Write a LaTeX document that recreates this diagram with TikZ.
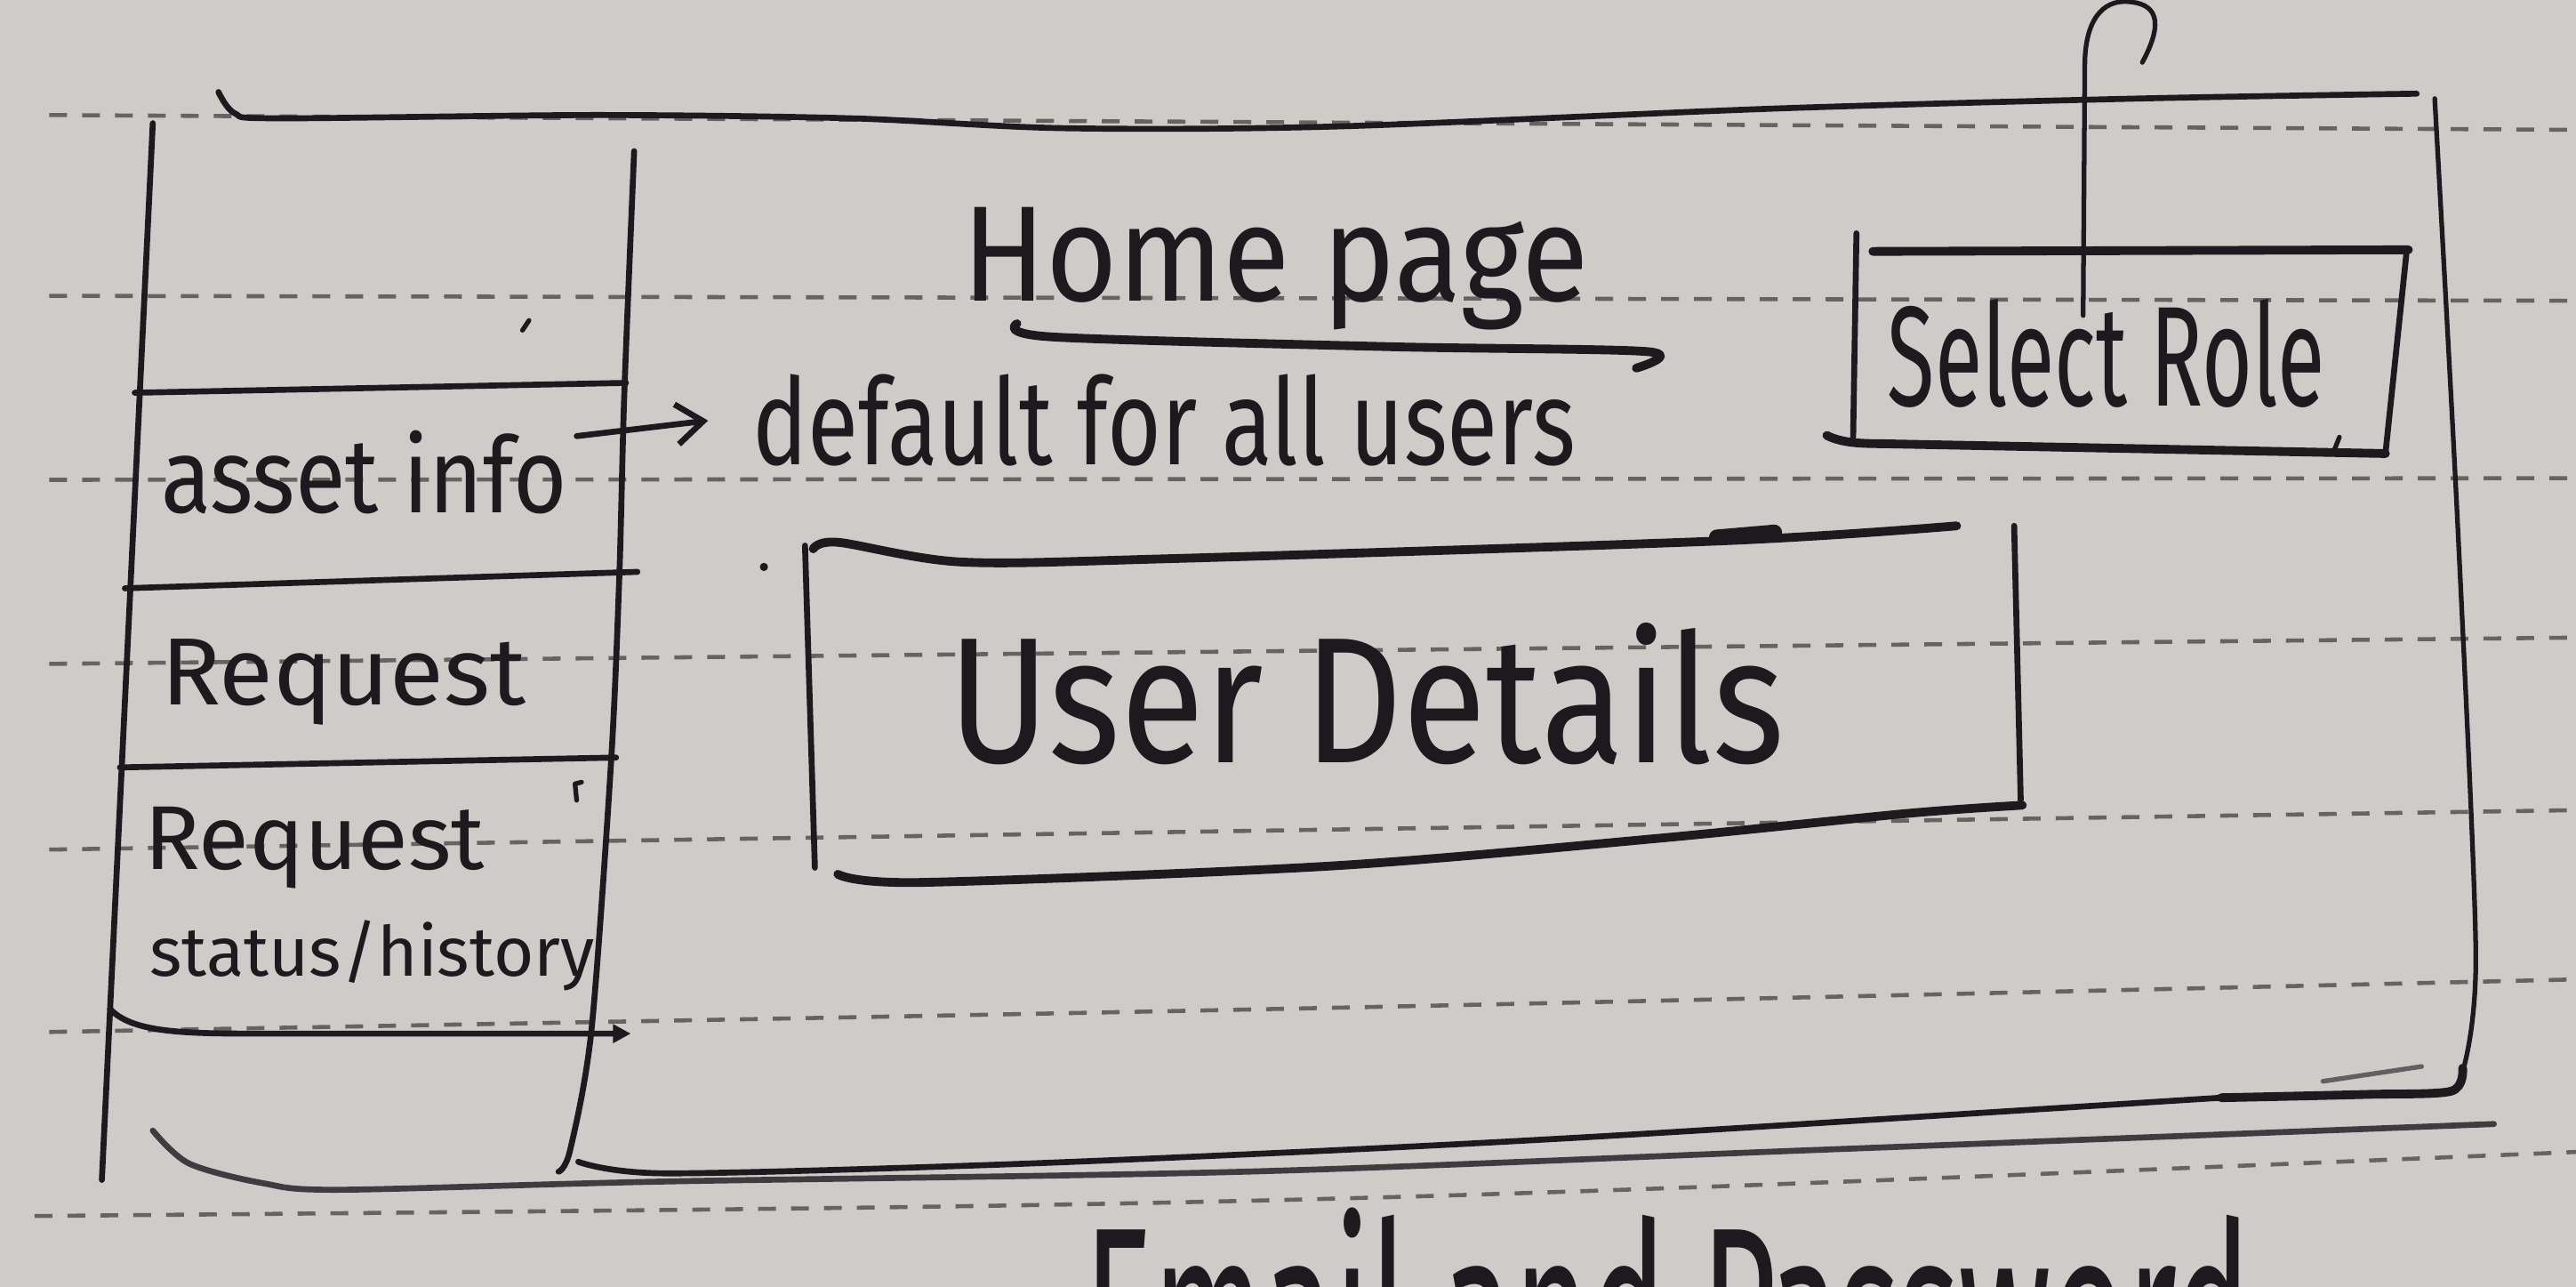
\documentclass[tikz,border=0pt]{standalone}
\usepackage{fontspec}
\setmainfont{Fira Sans}
\usepackage{graphicx}
\usetikzlibrary{arrows.meta,calc}
\definecolor{paper}{RGB}{206,203,200}
\definecolor{ink}{RGB}{28,26,30}
\definecolor{rule}{RGB}{104,99,96}
\newlength\rpx
\setlength\rpx{0.018476cm}
% handwritten label: width, height above baseline, text
\newcommand\hand[3]{\resizebox{#1\rpx}{#2\rpx}{#3}}
\tikzset{
  pen/.style={draw=ink, line width=1.9pt, line cap=round, line join=round},
  boldpen/.style={pen, line width=2.8pt},
  finepen/.style={pen, line width=1.5pt},
  ruled/.style={draw=rule, line width=1.3pt, dash pattern=on 0.2cm off 0.17cm},
  lbl/.style={anchor=base west, inner sep=0pt, outer sep=0pt, text=ink,
              font=\fontsize{10}{12}\selectfont},
}
\begin{document}
\begin{tikzpicture}[x=0.018476cm, y=-0.018476cm]
\fill[paper] (0,0) rectangle (1568,783);
\useasboundingbox (0,0) rectangle (1568,783);
\clip (0,0) rectangle (1568,783);

% ruled notebook lines
\draw[ruled] (30,70) -- (1568,79);
\draw[ruled] (30,180) -- (1568,183);
\draw[ruled] (30,292) -- (1568,291);
\draw[ruled] (30,404) -- (1568,388);
\draw[ruled] (30,517) -- (1568,493);
\draw[ruled] (30,628) .. controls (800,614) .. (1568,596);
\draw[ruled] (21,740) .. controls (794,733) .. (1568,701);

% outer page frame
\draw[pen] plot[smooth] coordinates {(133,56) (143,69) (170,72) (363,70) (518,72) (647,78) (812,77) (1082,66) (1300,60) (1471,57)};
\draw[finepen] plot[smooth] coordinates {(1482,60) (1496,320) (1507,580) (1499,652)};
\draw[boldpen] plot[smooth] coordinates {(1499,650) (1492,664) (1440,666) (1352,668)};
\draw[pen] plot[smooth] coordinates {(1352,668) (1000,690) (812,700) (600,709) (404,714) (352,707)};
\draw[finepen, draw=ink!70] (1414,658) -- (1474,649);
\draw[pen, draw=ink!85] plot[smooth] coordinates {(93,688) (115,708) (160,720) (207,724) (404,719) (758,713) (1100,700) (1518,684)};

% side menu
\draw[pen] (93,75) -- (62,718);
\draw[pen] plot[smooth] coordinates {(386,92) (380,240) (377,350) (372,463) (360,627) (347,700) (340,713)};
\draw[pen] (82,239) -- (381,233);
\draw[pen] (76,358) -- (388,348);
\draw[pen] (73,467) -- (375,461);
\draw[pen, -{Triangle[length=0.2cm,width=0.2cm]}] (67,614) .. controls (80,628) and (110,629) .. (155,629) -- (384,629);
\draw[finepen] (318,201) -- (322,195);
\draw[finepen] (354,476) -- (350,477) -- (351,487);

\node[lbl] (assetinfo) at (98,312) {\hand{247}{50}{asset info}};
\node[lbl] (request)   at (98,429) {\hand{222}{40}{Request}};
\node[lbl] (reqstat)   at (88,529) {\hand{207}{38}{Request}};
\node[lbl] (history)   at (91,594) {\hand{271}{34}{status/history}};

% page title and note
\node[lbl] (home) at (586,183) {\hand{381}{57}{Home page}};
\draw[boldpen] plot[smooth] coordinates {(619,197) (640,205) (847,211) (1003,214) (996,224)};
\node[lbl] (default) at (458,283) {\hand{501}{55}{default for all users}};
\draw[pen, -{Straight Barb[length=0.3cm,width=0.45cm]}]
  ($(assetinfo.east)+(6,-22)$) -- ($(default.west)+(-27,0)$);

% role selector
\node[lbl] (selrole) at (1149,247) {\hand{266}{65}{Select Role}};
\draw[pen] (1130,142) -- (1128,266);
\draw[boldpen] (1140,153) -- (1466,152);
\draw[pen] (1465,152) -- (1452,276);
\draw[boldpen] (1112,265) .. controls (1120,269) and (1130,270) .. (1145,270) -- (1452,276);
\draw[finepen] (1420,276) -- (1424,266);
\coordinate (hookend) at (1304,38);
\draw[finepen] ($(selrole.base west)+(119,-55)$) -- (1269,40)
  .. controls (1269,12) and (1280,0) .. (1295,1)
  .. controls (1312,2) and (1318,12) .. (hookend);

% user details panel
\fill[ink] (465,345) circle (2.5);
\draw[pen] (490,332) -- (496,528);
\draw[boldpen] plot[smooth] coordinates {(495,334) (510,330) (585,342) (711,340) (1051,329) (1191,320)};
\draw[ink, line width=5pt, line cap=round] (1045,327) -- (1080,324);
\draw[pen] (1226,320) -- (1230,487);
\draw[boldpen] plot[smooth] coordinates {(510,532) (560,537) (810,527) (1011,510) (1161,495) (1231,490)};
\node[lbl] (userdet) at (577,464) {\hand{509}{85}{User Details}};

% login caption below, running off the page edge
\node[lbl] (login) at (660,850) {\hand{710}{115}{Email and Password}};
\end{tikzpicture}
\end{document}
